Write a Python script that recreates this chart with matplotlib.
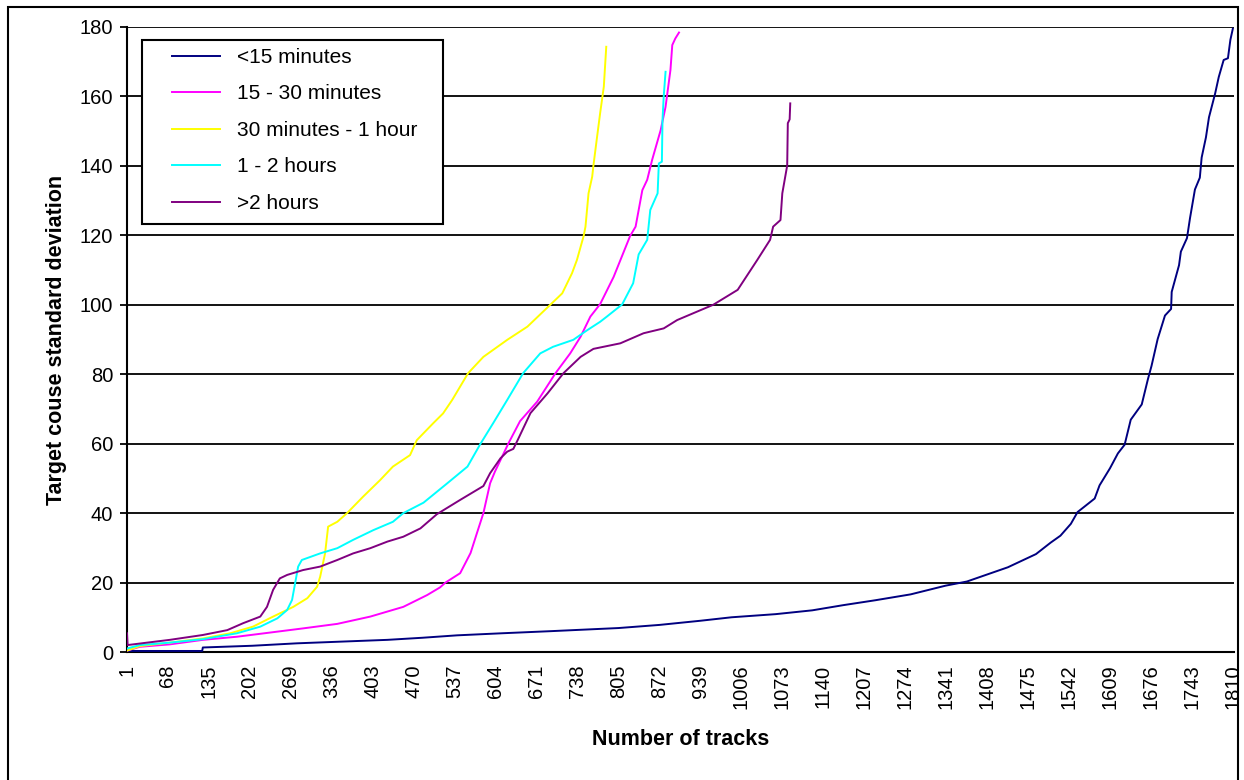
import matplotlib.pyplot as plt
from matplotlib.patches import Rectangle

plt.rcParams['font.family'] = ['Liberation Sans', 'DejaVu Sans']

# track number / standard deviation
lt15_x = [1, 124, 125, 206, 279, 353, 427, 484, 541, 615, 694, 805, 872, 939, 990, 1062, 1122, 1173, 1225,
          1283, 1340, 1375, 1442, 1488, 1512, 1528, 1545, 1556, 1584, 1592, 1609, 1622, 1633, 1643, 1661,
          1671, 1677, 1687, 1699, 1709, 1710, 1722, 1725, 1735, 1740, 1748, 1756, 1759, 1766, 1771, 1781,
          1787, 1795, 1802, 1806, 1810]
lt15_y = [0.3, 0.3, 1.3, 1.8, 2.5, 3.0, 3.5, 4.1, 4.8, 5.4, 6.0, 6.9, 7.8, 9.0, 10.0, 10.9, 12.0, 13.5, 14.9,
          16.6, 19.1, 20.3, 24.4, 28.2, 31.5, 33.5, 36.9, 40.3, 44.2, 48.0, 52.9, 57.2, 59.7, 66.9, 71.3,
          78.5, 82.4, 90.1, 96.9, 98.8, 103.7, 111.4, 115.3, 119.2, 125.0, 133.2, 136.6, 142.4, 148.2, 154.0,
          160.8, 165.6, 170.5, 171.0, 176.3, 179.5]

m15_30_x = [1, 22, 71, 125, 181, 235, 289, 345, 399, 453, 492, 513, 522, 546, 563, 573, 584, 595, 603, 612,
            625, 644, 672, 702, 726, 743, 759, 775, 797, 824, 833, 844, 852, 860, 874, 882, 890, 893, 898, 904]
m15_30_y = [0.4, 1.5, 2.2, 3.5, 4.4, 5.6, 6.8, 8.1, 10.2, 13.0, 16.4, 18.6, 20.0, 22.7, 28.5, 34.0, 40.0,
            48.6, 52.0, 55.3, 60.1, 66.5, 72.1, 80.3, 86.0, 90.8, 96.6, 100.2, 108.0, 119.8, 122.5, 133.0,
            136.0, 141.7, 150.3, 157.0, 167.6, 174.8, 176.7, 178.4]

m30_60_x = [1, 22, 71, 125, 170, 207, 240, 273, 296, 312, 317, 325, 330, 345, 361, 387, 415, 436, 464, 475,
            502, 518, 533, 559, 584, 623, 656, 694, 713, 729, 737, 748, 751, 756, 762, 764, 770, 775, 781,
            783, 785]
m30_60_y = [0.4, 1.7, 2.7, 3.9, 5.4, 7.3, 10.2, 13.0, 15.5, 18.8, 21.7, 28.4, 36.1, 37.5, 40.0, 44.7, 49.5,
            53.4, 56.7, 61.0, 65.9, 68.7, 72.6, 80.3, 85.0, 89.9, 93.7, 100.1, 103.3, 109.1, 112.9, 119.8,
            122.5, 132.1, 136.9, 140.1, 148.4, 155.2, 162.8, 168.6, 174.3]

h1_2_x = [1, 22, 71, 125, 181, 219, 247, 263, 271, 276, 281, 287, 317, 345, 371, 404, 436, 453, 486, 525,
          558, 579, 600, 623, 649, 677, 698, 731, 754, 775, 786, 811, 829, 838, 852, 857, 869, 871, 876,
          877, 879, 882]
h1_2_y = [1.0, 2.0, 2.7, 3.7, 5.4, 7.3, 9.7, 12.1, 15.0, 19.8, 24.6, 26.5, 28.4, 29.9, 32.3, 35.1, 37.5,
          40.0, 43.0, 48.6, 53.4, 59.9, 65.9, 72.6, 80.3, 86.0, 87.9, 89.9, 92.7, 95.1, 96.6, 100.1, 106.2,
          114.5, 118.7, 127.3, 132.1, 140.7, 141.2, 153.2, 160.0, 167.1]

gt2_x = [1, 2, 34, 71, 125, 165, 191, 219, 230, 240, 251, 263, 289, 317, 345, 371, 399, 427, 453, 481, 508,
         546, 584, 595, 612, 623, 633, 640, 661, 689, 715, 743, 764, 808, 846, 879, 901, 960, 1000, 1032,
         1053, 1058, 1070, 1073, 1081, 1082, 1085, 1086]
gt2_y = [5.4, 2.0, 2.7, 3.5, 4.9, 6.3, 8.3, 10.2, 13.0, 17.9, 21.2, 22.2, 23.6, 24.6, 26.5, 28.4, 29.9,
         31.8, 33.2, 35.6, 39.7, 43.8, 47.8, 51.5, 55.8, 57.7, 58.5, 61.0, 68.8, 74.5, 80.3, 85.0, 87.3,
         88.9, 91.8, 93.2, 95.6, 100.0, 104.3, 112.9, 118.7, 122.5, 124.4, 132.1, 140.1, 152.3, 153.4, 158.0]

series = [
    ("<15 minutes", lt15_x, lt15_y, "#000080"),
    ("15 - 30 minutes", m15_30_x, m15_30_y, "#FF00FF"),
    ("30 minutes - 1 hour", m30_60_x, m30_60_y, "#FFFF00"),
    ("1 - 2 hours", h1_2_x, h1_2_y, "#00FFFF"),
    (">2 hours", gt2_x, gt2_y, "#800080"),
]

x_ticks = list(range(1, 1811, 67))
y_ticks = list(range(0, 181, 20))

fig = plt.figure(figsize=(12.44, 7.8), dpi=100)
ax = fig.add_axes([0.1021, 0.1641, 0.8899, 0.8013])

for name, xs, ys, col in series:
    ax.plot(xs, ys, color=col, lw=1.4, label=name, zorder=3)

ax.set_xlim(1, 1812)
ax.set_ylim(0, 180)
ax.set_xticks(x_ticks)
ax.set_xticklabels([str(t) for t in x_ticks], rotation=90, fontsize=14.5)
ax.set_yticks(y_ticks)
ax.set_yticklabels([str(t) for t in y_ticks], fontsize=14.5)
ax.tick_params(axis='x', length=0, pad=9)
ax.tick_params(axis='y', direction='out', length=5, width=1.3, pad=5)

ax.yaxis.grid(True, color='black', lw=1.3)
ax.set_axisbelow(True)
for s in ['top', 'right']:
    ax.spines[s].set_visible(False)
ax.spines['left'].set_linewidth(1.5)
ax.spines['bottom'].set_linewidth(1.5)

ax.set_xlabel("Number of tracks", fontsize=15.5, fontweight='bold', labelpad=14)
ax.set_ylabel("Target couse standard deviation", fontsize=15.5, fontweight='bold', labelpad=9)

# legend box
ax.add_patch(Rectangle((0.0136, 0.6848), 0.2719, 0.2944, transform=ax.transAxes,
                       facecolor='white', edgecolor='black', lw=1.5, zorder=5))
leg = ax.legend(loc='upper left', bbox_to_anchor=(0.0407, 0.9664), frameon=False, fontsize=15,
                borderaxespad=0, borderpad=0, handlelength=2.3, handletextpad=0.8, labelspacing=0.84)
leg.set_zorder(6)

# chart area border
fig.patches.append(Rectangle((8 / 1244, -0.02), 1230 / 1244, 1.02 - 7 / 780, transform=fig.transFigure,
                             fill=False, edgecolor='black', lw=1.5))

fig.savefig("out.png", dpi=100)
